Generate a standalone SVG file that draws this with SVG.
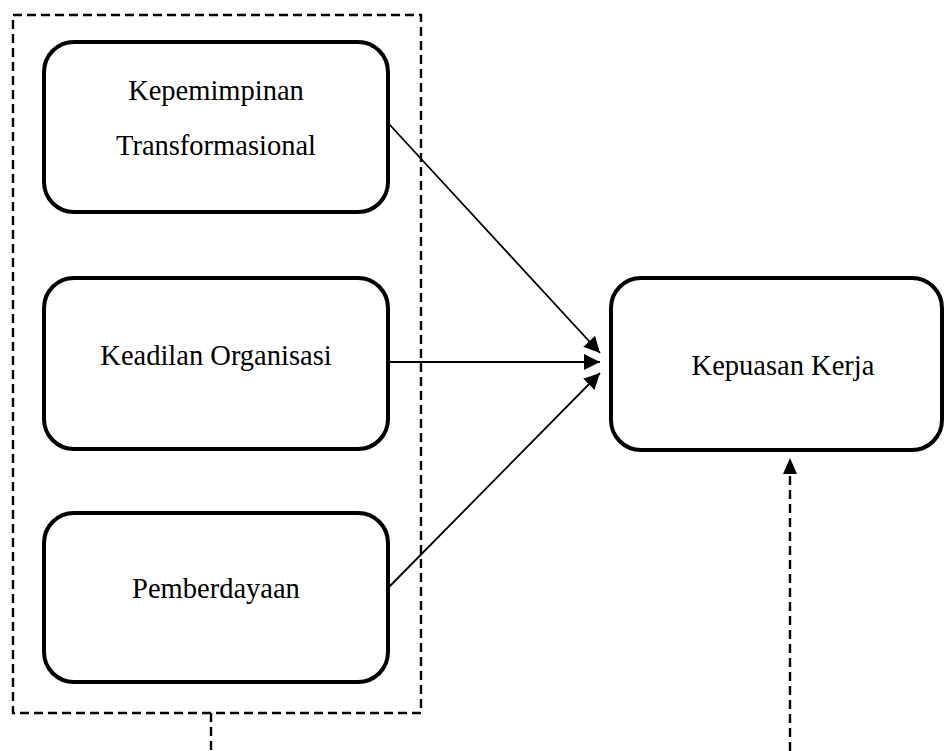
<svg xmlns="http://www.w3.org/2000/svg" width="945" height="751" viewBox="0 0 945 751">
<style>
.node{fill:#fff;stroke:#000;stroke-width:4}
.lbl{font-family:"Liberation Serif","Times New Roman",serif;font-size:28.5px;fill:#000;text-anchor:middle}
.edge{fill:none;stroke:#000;stroke-width:1.8}
.dash{fill:none;stroke:#000;stroke-width:2.4;stroke-dasharray:9 5}
</style>
<defs>
<marker id="ah" markerUnits="userSpaceOnUse" markerWidth="18" markerHeight="16" refX="16" refY="8" orient="auto">
<path d="M0,0 L16,8 L0,16 Z" fill="#000"/>
</marker>
</defs>
<rect class="dash" x="13" y="15" width="408" height="698"/>
<g id="n1">
<rect class="node" x="44" y="42" width="344" height="170" rx="30" ry="30"/>
<text class="lbl" x="216" y="100">Kepemimpinan</text>
<text class="lbl" x="216" y="155">Transformasional</text>
</g>
<g id="n2">
<rect class="node" x="44" y="278" width="344" height="171" rx="30" ry="30"/>
<text class="lbl" x="216" y="365">Keadilan Organisasi</text>
</g>
<g id="n3">
<rect class="node" x="44" y="513" width="344" height="169" rx="30" ry="30"/>
<text class="lbl" x="216" y="598">Pemberdayaan</text>
</g>
<g id="n4">
<rect class="node" x="611" y="278" width="331" height="172" rx="30" ry="30"/>
<text class="lbl" x="783" y="375">Kepuasan Kerja</text>
</g>
<g id="edges">
<line class="edge" x1="389" y1="124" x2="600" y2="353" marker-end="url(#ah)"/>
<line class="edge" x1="389" y1="362" x2="600" y2="362" marker-end="url(#ah)"/>
<line class="edge" x1="389" y1="587" x2="600" y2="373" marker-end="url(#ah)"/>
<line class="dash" x1="211" y1="713" x2="211" y2="751"/>
<line class="dash" x1="790" y1="751" x2="790" y2="474"/>
<path d="M790,458 L797,474 L783,474 Z" fill="#000"/>
</g>
</svg>
